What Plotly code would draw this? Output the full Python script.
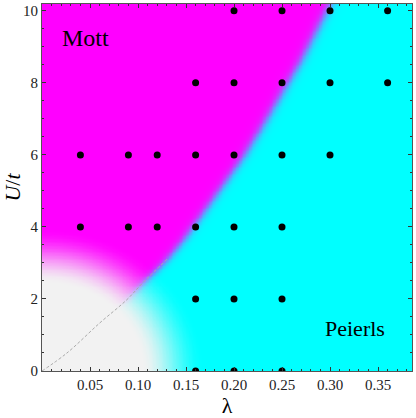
import numpy as np
import plotly.graph_objects as go

# simulation points (lambda, U/t)
pts_lam = [0.20, 0.25, 0.30, 0.36,
           0.16, 0.20, 0.25, 0.30, 0.36,
           0.04, 0.09, 0.12, 0.16, 0.20, 0.25, 0.30,
           0.04, 0.09, 0.12, 0.16, 0.20, 0.25,
           0.16, 0.20, 0.25,
           0.16, 0.20, 0.25]
pts_U = [10, 10, 10, 10,
         8, 8, 8, 8, 8,
         6, 6, 6, 6, 6, 6, 6,
         4, 4, 4, 4, 4, 4,
         2, 2, 2,
         0, 0, 0]

# Mott / Peierls boundary
bnd_lam = [0.0, 0.026, 0.060, 0.088, 0.105, 0.130, 0.147, 0.175, 0.209, 0.227, 0.269, 0.300, 0.310]
bnd_U = [0.0, 0.50, 1.33, 1.97, 2.45, 3.10, 3.64, 4.67, 5.94, 6.70, 8.60, 10.20, 10.70]

# visible dashed part of the boundary
dash_lam = [0.0, 0.026, 0.060, 0.088, 0.105, 0.130]
dash_U = [0.0, 0.50, 1.33, 1.97, 2.45, 3.10]

x_tick_vals = [0.05, 0.10, 0.15, 0.20, 0.25, 0.30, 0.35]
y_tick_vals = [0, 2, 4, 6, 8, 10]

XMAX = 0.3854
YMAX = 10.19

# background phase field
gl = np.linspace(0, XMAX, 260)
gu = np.linspace(0, YMAX, 260)
L, UU = np.meshgrid(gl, gu)
lam_b = np.interp(UU, bnd_U, bnd_lam)
mix = 1.0 / (1.0 + np.exp(-(L - lam_b) * 960 / 3.0))
r = np.sqrt((L / 0.14) ** 2 + (UU / 3.3) ** 2)
t = np.clip((r - 0.74) / (1.2 - 0.74), 0, 1)
gray = 1 - t * t * (3 - 2 * t)

fig = go.Figure()
fig.add_trace(go.Heatmap(x=gl, y=gu, z=mix, zmin=0, zmax=1,
                         colorscale=[[0, "#ff00ff"], [1, "#00ffff"]],
                         showscale=False, zsmooth="best", hoverinfo="skip"))
fig.add_trace(go.Heatmap(x=gl, y=gu, z=gray, zmin=0, zmax=1,
                         colorscale=[[0, "rgba(242,242,242,0)"],
                                     [1, "rgba(242,242,242,1)"]],
                         showscale=False, zsmooth="best", hoverinfo="skip"))
fig.add_trace(go.Scatter(x=dash_lam, y=dash_U, mode="lines",
                         line=dict(color="#aaaaaa", width=1, dash="3px,2px",
                                   shape="spline"),
                         hoverinfo="skip"))
fig.add_trace(go.Scatter(x=pts_lam, y=pts_U, mode="markers",
                         marker=dict(color="black", size=7)))

fig.add_annotation(x=0.045, y=9.25, text="Mott", showarrow=False,
                   font=dict(size=24, color="black"))
fig.add_annotation(x=0.326, y=1.19, text="Peierls", showarrow=False,
                   font=dict(size=22, color="black"))

axis_style = dict(showline=True, linecolor="#555555", linewidth=1,
                  mirror="ticks", ticks="inside", ticklen=4, tickcolor="#333333",
                  showgrid=False, zeroline=False, automargin=False,
                  tickfont=dict(size=15, color="#222222"))

fig.update_xaxes(range=[0, XMAX], tickvals=x_tick_vals,
                 ticktext=[f"{v:.2f}" for v in x_tick_vals],
                 minor=dict(dtick=0.01, tick0=0, ticks="inside", ticklen=2,
                            tickcolor="#333333"),
                 title=dict(text="λ", font=dict(size=22), standoff=0),
                 **axis_style)
fig.update_yaxes(range=[0, YMAX], tickvals=y_tick_vals,
                 minor=dict(dtick=0.5, tick0=0, ticks="inside", ticklen=2,
                            tickcolor="#333333"),
                 title=dict(text="<i>U</i>/<i>t</i>", font=dict(size=22), standoff=4),
                 **axis_style)

fig.update_layout(width=416, height=418,
                  margin=dict(l=42, r=4, t=4, b=47),
                  paper_bgcolor="white", plot_bgcolor="white",
                  showlegend=False,
                  font=dict(family="Liberation Serif", color="black"))

# page body has a default 8px margin; drop it so the figure sits at 0,0
fig.write_html("out.html", config={"displayModeBar": False},
               post_script="document.body.style.margin='0';")
